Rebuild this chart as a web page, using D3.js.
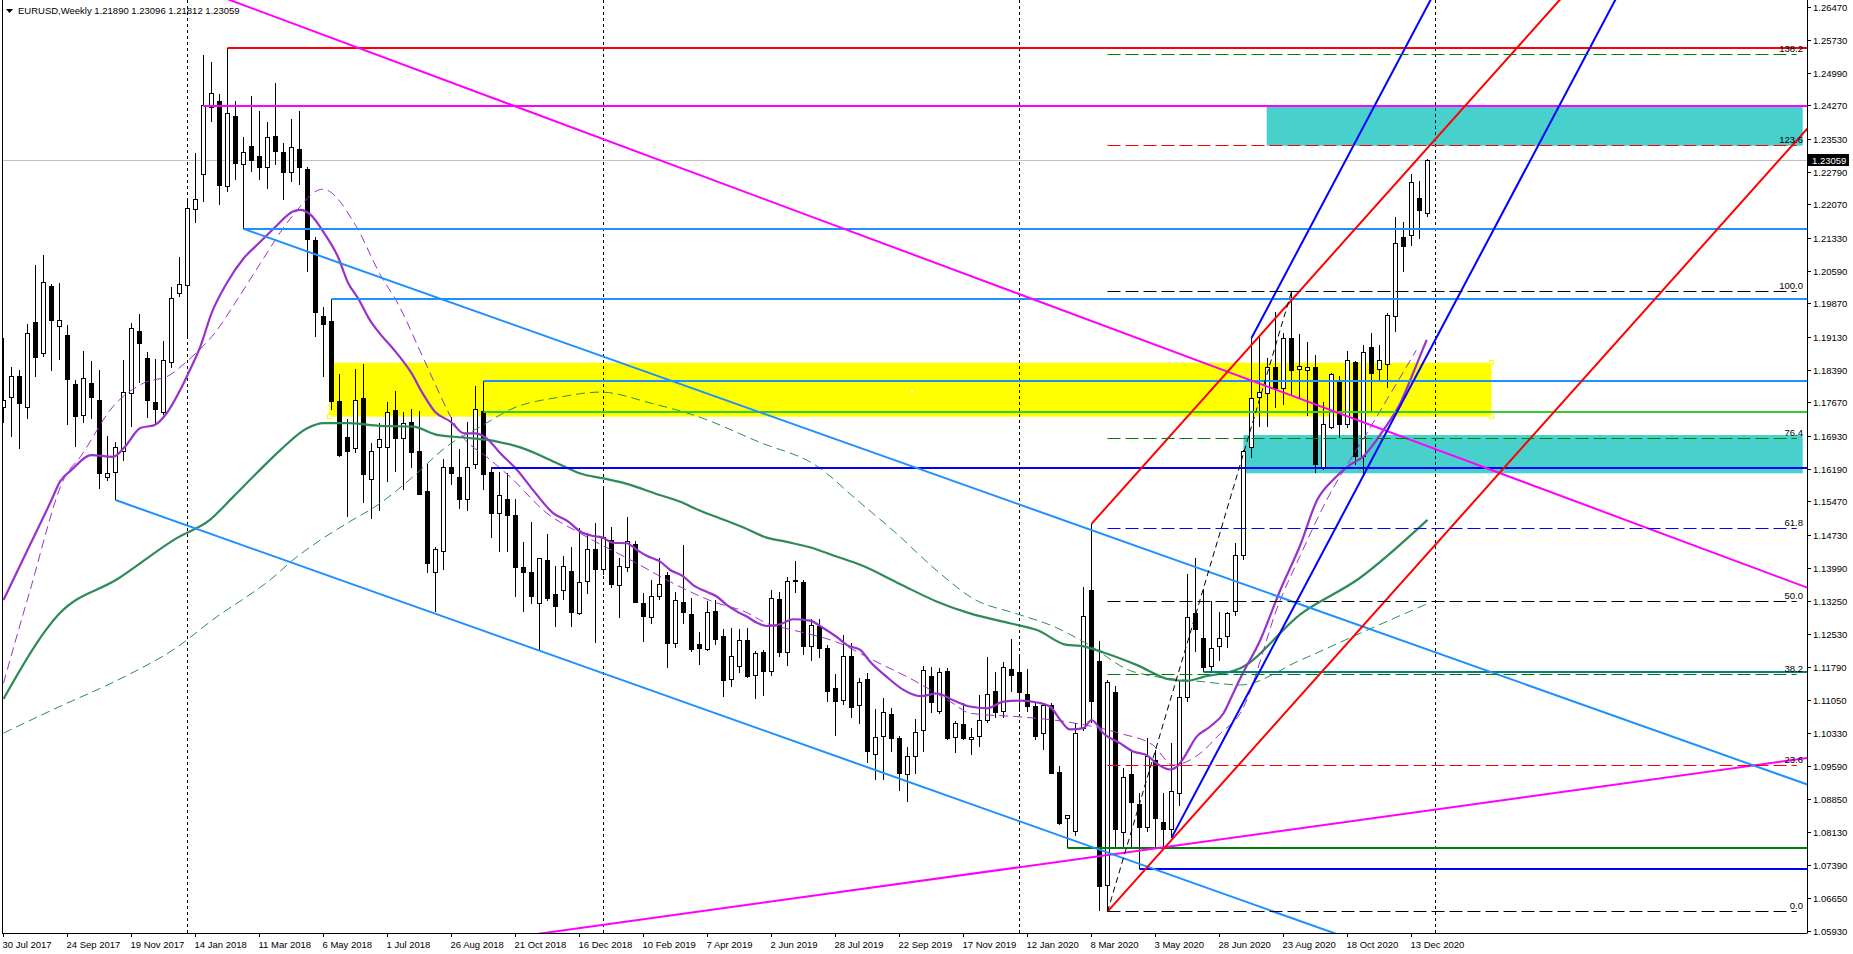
<!DOCTYPE html>
<html><head><meta charset="utf-8">
<script src="https://cdn.jsdelivr.net/npm/d3@7"></script>
<style>
body{margin:0;background:#fff;overflow:hidden}
svg{display:block}
text{font-family:"Liberation Sans",Arial,sans-serif;font-size:9.5px;fill:#000}
</style></head>
<body><svg id="c" width="1853" height="954"></svg>
<script>
// ---------------- DATA ----------------
const symbolTitle = "EURUSD,Weekly";
const lastQuote = [1.21890, 1.23096, 1.21812, 1.23059]; // O H L C of last bar
const firstBarDate = "2017-07-30";

const opens = [1.1756,1.1778,1.1825,1.1756,1.1945,1.1876,1.2025,1.1936,1.1916,1.1807,
1.1740,1.1811,1.1773,1.1602,1.1613,1.1658,1.1787,1.1925,1.1865,1.1767,
1.1745,1.1856,1.2011,1.2029,1.2196,1.2274,1.2423,1.2436,1.2247,1.2403,
1.2296,1.2336,1.2314,1.2291,1.2360,1.2323,1.2280,1.2331,1.2285,1.2129,
1.1960,1.1947,1.1769,1.1689,1.1665,1.1776,1.1596,1.1667,1.1667,1.1749,
1.1687,1.1724,1.1660,1.1569,1.1389,1.1436,1.1624,1.1600,1.1553,1.1629,
1.1747,1.1613,1.1522,1.1553,1.1516,1.1400,1.1389,1.1320,1.1416,1.1340,
1.1349,1.1393,1.1298,1.1369,1.1440,1.1396,1.1460,1.1360,1.1402,1.1453,
1.1322,1.1291,1.1336,1.1384,1.1233,1.1324,1.1296,1.1229,1.1218,1.1304,
1.1247,1.1151,1.1180,1.1238,1.1162,1.1211,1.1169,1.1329,1.1213,1.1371,
1.1367,1.1226,1.1269,1.1220,1.1131,1.1106,1.1204,1.1095,1.1151,1.0986,
1.1026,1.1075,1.1020,1.0942,1.0980,1.1038,1.1158,1.1082,1.1169,1.1024,
1.1053,1.1018,1.1026,1.1060,1.1126,1.1082,1.1175,1.1167,1.1118,1.1091,
1.1031,1.1095,1.0946,1.0844,1.0815,1.1044,1.1349,1.1191,1.0695,1.1124,
1.0813,1.0942,1.0875,1.0824,1.0971,1.0835,1.0818,1.0898,1.1113,1.1298,
1.1244,1.1182,1.1226,1.1247,1.1304,1.1427,1.1667,1.1778,1.1787,1.1845,
1.1798,1.1911,1.1842,1.1838,1.1845,1.1624,1.1713,1.1816,1.1718,1.1856,
1.1647,1.1891,1.1842,1.1853,1.1960,1.2134,1.2138,1.2222,1.21890];
const highs = [1.1911,1.1847,1.1840,1.1942,1.2074,1.2096,1.2031,1.2034,1.1940,1.1818,
1.1882,1.1860,1.1840,1.1693,1.1680,1.1862,1.1945,1.1965,1.1880,1.1865,
1.1905,1.2025,1.2091,1.2218,1.2323,1.2540,1.2525,1.2454,1.2556,1.2438,
1.2358,1.2449,1.2416,1.2391,1.2478,1.2345,1.2398,1.2416,1.2291,1.2136,
1.1980,1.1998,1.1831,1.1731,1.1842,1.1853,1.1678,1.1722,1.1769,1.1793,
1.1747,1.1753,1.1749,1.1631,1.1447,1.1642,1.1736,1.1665,1.1724,1.1805,
1.1816,1.1624,1.1613,1.1611,1.1553,1.1458,1.1502,1.1422,1.1476,1.1404,
1.1427,1.1447,1.1489,1.1478,1.1500,1.1578,1.1491,1.1422,1.1513,1.1460,
1.1344,1.1373,1.1422,1.1390,1.1347,1.1451,1.1333,1.1258,1.1327,1.1329,
1.1264,1.1267,1.1264,1.1267,1.1215,1.1218,1.1351,1.1347,1.1380,1.1416,
1.1373,1.1287,1.1287,1.1229,1.1164,1.1251,1.1233,1.1155,1.1167,1.1087,
1.1111,1.1089,1.1026,1.1002,1.1064,1.1182,1.1180,1.1178,1.1178,1.1060,
1.1100,1.1044,1.1118,1.1202,1.1169,1.1191,1.1242,1.1209,1.1175,1.1100,
1.1098,1.1100,1.0960,1.0851,1.1055,1.1358,1.1498,1.1238,1.1150,1.1138,
1.0955,1.0993,1.0900,1.1022,1.0995,1.0900,1.1011,1.1149,1.1387,1.1422,
1.1353,1.1327,1.1302,1.1302,1.1456,1.1662,1.1911,1.1918,1.1867,1.1969,
1.1922,1.2014,1.1920,1.1902,1.1873,1.1769,1.1833,1.1827,1.1882,1.1860,
1.1896,1.1922,1.1896,1.1967,1.2180,1.2169,1.2276,1.2260,1.23096];
const lows = [1.1722,1.1691,1.1665,1.1731,1.1825,1.1869,1.1838,1.1862,1.1718,1.1669,
1.1722,1.1731,1.1576,1.1593,1.1551,1.1638,1.1713,1.1811,1.1733,1.1718,
1.1740,1.1845,1.2002,1.1913,1.2167,1.2214,1.2391,1.2207,1.2236,1.2262,
1.2154,1.2280,1.2262,1.2242,1.2296,1.2218,1.2258,1.2251,1.2058,1.1913,
1.1825,1.1751,1.1647,1.1513,1.1656,1.1544,1.1509,1.1527,1.1591,1.1613,
1.1573,1.1622,1.1562,1.1389,1.1302,1.1396,1.1584,1.1531,1.1527,1.1620,
1.1573,1.1467,1.1436,1.1436,1.1336,1.1302,1.1320,1.1215,1.1327,1.1269,
1.1329,1.1269,1.1296,1.1342,1.1233,1.1384,1.1356,1.1289,1.1391,1.1322,
1.1235,1.1275,1.1329,1.1178,1.1222,1.1275,1.1213,1.1184,1.1215,1.1229,
1.1113,1.1135,1.1167,1.1155,1.1109,1.1115,1.1160,1.1202,1.1182,1.1344,
1.1207,1.1193,1.1200,1.1102,1.1026,1.1095,1.1066,1.1053,1.0966,1.0929,
1.0929,1.0991,1.0904,1.0880,1.0942,1.0991,1.1078,1.1075,1.1018,1.0989,
1.1018,1.0984,1.1002,1.1055,1.1066,1.1066,1.1124,1.1080,1.1080,1.1018,
1.0995,1.0943,1.0829,1.0778,1.0804,1.1038,1.1055,1.0638,1.0635,1.0778,
1.0778,1.0775,1.0731,1.0813,1.0778,1.0778,1.0800,1.0871,1.1102,1.1213,
1.1169,1.1169,1.1193,1.1222,1.1293,1.1418,1.1645,1.1713,1.1713,1.1756,
1.1762,1.1784,1.1776,1.1738,1.1611,1.1618,1.1709,1.1689,1.1711,1.1629,
1.1607,1.1747,1.1813,1.1800,1.1925,1.2058,1.2116,1.2131,1.21812];
const closes = [1.1773,1.1825,1.1765,1.1922,1.1867,1.2034,1.1949,1.1951,1.1820,1.1736,
1.1822,1.1780,1.1611,1.1611,1.1667,1.1789,1.1933,1.1900,1.1773,1.1753,
1.1862,1.2000,1.2031,1.2198,1.2220,1.2427,1.2454,1.2251,1.2411,1.2300,
1.2323,1.2305,1.2291,1.2356,1.2325,1.2280,1.2334,1.2291,1.2131,1.1967,
1.1942,1.1769,1.1651,1.1660,1.1773,1.1607,1.1660,1.1685,1.1745,1.1687,
1.1722,1.1656,1.1564,1.1411,1.1442,1.1624,1.1611,1.1553,1.1624,1.1753,
1.1607,1.1522,1.1560,1.1516,1.1402,1.1389,1.1336,1.1420,1.1333,1.1315,
1.1404,1.1300,1.1367,1.1442,1.1396,1.1467,1.1364,1.1404,1.1458,1.1324,
1.1293,1.1336,1.1364,1.1233,1.1327,1.1302,1.1218,1.1220,1.1300,1.1242,
1.1149,1.1204,1.1238,1.1158,1.1209,1.1169,1.1333,1.1211,1.1371,1.1373,
1.1226,1.1273,1.1220,1.1126,1.1104,1.1204,1.1089,1.1146,1.0993,1.1024,
1.1078,1.1022,1.0944,1.0980,1.1035,1.1171,1.1102,1.1167,1.1020,1.1055,
1.1020,1.1024,1.1060,1.1118,1.1078,1.1178,1.1160,1.1124,1.1091,1.1026,
1.1095,1.0944,1.0833,1.0849,1.1033,1.1293,1.1104,1.0693,1.1146,1.0818,
1.0935,1.0878,1.0824,1.0980,1.0842,1.0818,1.0904,1.1111,1.1289,1.1264,
1.1178,1.1222,1.1244,1.1298,1.1427,1.1658,1.1776,1.1789,1.1845,1.1800,
1.1909,1.1840,1.1847,1.1845,1.1631,1.1720,1.1831,1.1720,1.1862,1.1647,
1.1878,1.1833,1.1862,1.1962,1.2122,1.2114,1.2256,1.2194,1.23059];

const priceTicks = [1.26470,1.25730,1.24990,1.24270,1.23530,1.22790,1.22070,1.21330,1.20590,
1.19870,1.19130,1.18390,1.17670,1.16930,1.16190,1.15470,1.14730,1.13990,1.13250,1.12530,
1.11790,1.11050,1.10330,1.09590,1.08850,1.08130,1.07390,1.06650,1.05930];
const dateTicks = ["30 Jul 2017","24 Sep 2017","19 Nov 2017","14 Jan 2018","11 Mar 2018","6 May 2018",
"1 Jul 2018","26 Aug 2018","21 Oct 2018","16 Dec 2018","10 Feb 2019","7 Apr 2019","2 Jun 2019",
"28 Jul 2019","22 Sep 2019","17 Nov 2019","12 Jan 2020","8 Mar 2020","3 May 2020","28 Jun 2020",
"23 Aug 2020","18 Oct 2020","13 Dec 2020"];

// moving averages: [bar index, price]
const maFast = [[0,1.1329],[3,1.1440],[6.0,1.1551],[7.06,1.1592],[8.5,1.1618],[11.0,1.1651],[13.7,1.1647],[15.2,1.1670],
[17.1,1.1711],[18.9,1.1718],[20.4,1.1744],[22.1,1.1796],[23.3,1.1840],[24.6,1.1892],[26.0,1.1966],[27.9,1.2033],
[30.0,1.2088],[32.1,1.2125],[34.2,1.2162],[36.1,1.2192],[37.1,1.2196],[38.4,1.2185],[40.1,1.2144],[41.8,1.2092],
[43.1,1.2033],[44.3,1.2000],[45.8,1.1951],[47.0,1.1922],[49.0,1.1881],[51.0,1.1833],[52.4,1.1788],[53.9,1.1748],
[55.9,1.1725],[57.6,1.1699],[58.9,1.1699],[60.4,1.1688],[62.1,1.1655],[64.2,1.1618],[66.2,1.1573],[68.7,1.1522],
[70.6,1.1503],[72.1,1.1481],[73.7,1.1471],[74.8,1.1468],[76.2,1.1456],[77.9,1.1455],[79.2,1.1440],[80.4,1.1427],
[82.1,1.1414],[83.3,1.1396],[85.0,1.1381],[86.2,1.1362],[87.9,1.1347],[89.2,1.1336],[90.4,1.1318],[91.7,1.1303],
[92.9,1.1292],[94.2,1.1278],[95.4,1.1271],[97.1,1.1275],[98.7,1.1286],[100.8,1.1283],[102.5,1.1266],[104.2,1.1246],
[105.5,1.1228],[107.1,1.1218],[108.3,1.1192],[110.4,1.1158],[112.5,1.1129],[114.6,1.1115],[116.7,1.1121],[118.7,1.1106],
[120.8,1.1092],[122.9,1.1088],[125.0,1.1103],[127.1,1.1105],[129.2,1.1101],[130.8,1.1092],[132.1,1.1062],[133.3,1.1041],
[135.0,1.1044],[136.0,1.1062],[137.5,1.1032],[139.6,1.1010],[141.2,1.0992],[142.9,1.0984],[144.1,1.0966],[145.8,1.0952],
[146.6,1.0957],[147.5,1.0977],[149.1,1.1024],[150.8,1.1047],[152.5,1.1077],[153.7,1.1121],[154.6,1.1155],[157.1,1.1240],
[159.6,1.1351],[162.1,1.1451],[164.2,1.1551],[166.2,1.1596],[168.3,1.1629],[169.9,1.1647],[172.5,1.1707],[174.6,1.1766],
[176.2,1.1833],[177.9,1.1907]];
const maFastShifted = [[0,1.1144],[3.3,1.1349],[7.7,1.1603],[9.6,1.1647],[13.7,1.1759],[17.5,1.1811],[20.8,1.1829],[22.9,1.1859],
[26.7,1.1929],[29.2,1.1996],[32.1,1.2077],[36.0,1.2180],[39.9,1.2242],[44.1,1.2159],[47.0,1.2055],[49.5,1.1981],
[52.0,1.1885],[53.9,1.1811],[55.9,1.1736],[57.4,1.1692],[60.4,1.1647],[63.3,1.1603],[67.9,1.1522],[72.1,1.1477],
[79.2,1.1410],[83.7,1.1366],[88.7,1.1325],[92.9,1.1301],[95.4,1.1277],[98.7,1.1262],[104.6,1.1232],[108.7,1.1195],
[113.7,1.1151],[118.7,1.1099],[120.8,1.1077],[127.1,1.1069],[132.9,1.1058],[139.6,1.1032],[143.7,1.1006],[146.2,1.0962],
[149.6,1.0988],[152.1,1.1032],[154.6,1.1077],[159.6,1.1329],[162.1,1.1428],[165.4,1.1551],[170.4,1.1699],[176.6,1.1884]];
const maSlow = [[0,1.1109],[6.9,1.1297],[14.3,1.1376],[21.7,1.1467],[25.8,1.1507],[28.7,1.1558],[31.6,1.1610],
[34.6,1.1662],[37.9,1.1710],[40.0,1.1722],[42.9,1.1722],[47.1,1.1716],[51.2,1.1714],[54.2,1.1696],[57.5,1.1690],
[61.7,1.1681],[64.6,1.1668],[69.2,1.1633],[72.1,1.1610],[75.0,1.1599],[77.9,1.1587],[81.7,1.1564],[84.6,1.1547],
[87.1,1.1527],[89.6,1.1510],[92.5,1.1490],[95.3,1.1468],[97.9,1.1458],[100.8,1.1446],[104.2,1.1425],[107.1,1.1407],
[112.1,1.1364],[116.7,1.1325],[120.8,1.1299],[125.8,1.1277],[129.2,1.1262],[132.9,1.1229],[134.6,1.1227],[137.5,1.1212],
[141.7,1.1184],[145.8,1.1152],[147.9,1.1149],[150.0,1.1158],[154.6,1.1177],[162.1,1.1297],[169.4,1.1376],[178,1.1507]];
const maSlowLong = [[0,1.1033],[6.9,1.1091],[14.3,1.1151],[21.7,1.1224],[26.7,1.1292],[30.4,1.1336],[33.3,1.1373],
[36.2,1.1418],[39.6,1.1462],[42.9,1.1499],[47.1,1.1544],[51.2,1.1603],[55.4,1.1670],[59.6,1.1714],[63.7,1.1755],
[69.6,1.1780],[74.6,1.1791],[81.0,1.1766],[86.9,1.1736],[94.3,1.1681],[101.8,1.1625],[106.7,1.1551],[111.6,1.1477],
[116.6,1.1395],[121.5,1.1329],[126.5,1.1299],[131.4,1.1269],[135.4,1.1232],[141.3,1.1169],[150.0,1.1147],[154.6,1.1140],
[162.1,1.1195],[169.6,1.1255],[178.3,1.1323]];

// horizontal lines: start bar, price
const hLineStart = [28, 25, 30, 41, 60, 60, 61, 133, 142, 150];
const hLinePrice = [1.2556, 1.2427, 1.2154, 1.1998, 1.1816, 1.1746, 1.1623, 1.0778, 1.0730, 1.1169];
// trend lines: [bar1, price1, bar2, price2]
const trendLines = [
  [40, 1.2585, 200, 1.1525],   // magenta falling
  [110, 1.0693, 220, 1.0964],  // magenta rising
  [30, 1.2154, 150, 1.13956],  // channel upper
  [14, 1.1551, 150, 1.06915],  // channel lower
  [136, 1.1498, 150, 1.17766], // red upper
  [138, 1.0636, 152, 1.09146], // red lower
  [156, 1.1911, 166, 1.22468], // blue upper
  [146, 1.0800, 156, 1.11358]  // blue lower
];
// rectangles: [bar1, bar2, priceTop, priceBottom]
const rects = [[40.7, 186, 1.18563, 1.17363], [157.9, 224.9, 1.24254, 1.23387], [155, 224.9, 1.16956, 1.16105]];
const rectMidHandle = [113.5, 1.17945];
// fibonacci retracement
const fibFrom = [138, 1.0636];
const fibTo = [161, 1.2014];
const fibLevels = [0, 23.6, 38.2, 50, 61.8, 76.4, 100, 123.6, 138.2];
const fibEndBar = 224.15;

// ---------------- STYLE ----------------
const hLineColor = ["#FF0000","#FF00FF","#1E90FF","#1E90FF","#1E90FF","#32CD32","#0000FF","#008000","#0000FF","#008080"];
const trendColor = ["#FF00FF","#FF00FF","#1E90FF","#1E90FF","#FF0000","#FF0000","#0000FF","#0000FF"];
const trendBoth = [true, true, false, false, false, false, false, false];
const rectColor = ["#FFFF00","#48D1CC","#48D1CC"];
const fibColor = ["#000000","#FF0000","#008000","#000000","#0000FF","#008000","#000000","#FF0000","#008000"];

// ---------------- DRAW ----------------
const PL = 2, PR = 1807, PT = 0, PB = 933;
const svg = d3.select("#c");
const x = d3.scaleLinear().domain([0, 178]).range([3.5, 1427.5]);
const y = d3.scaleLinear().domain([1.26470, 1.05930]).range([7, 931]);
const start = d3.timeParse("%Y-%m-%d")(firstBarDate);
const barDate = i => d3.timeWeek.offset(start, i);
const fmt = d3.timeFormat("%-d %b %Y");
const crisp = v => Math.round(v - 0.5) + 0.5;

svg.append("rect").attr("width",1853).attr("height",954).attr("fill","#fff");
svg.append("defs").append("clipPath").attr("id","pc").append("rect")
  .attr("x",PL).attr("y",PT).attr("width",PR-PL).attr("height",PB-PT);
const g = svg.append("g").attr("clip-path","url(#pc)");

rects.forEach((r,k)=>{
  g.append("rect").attr("x",x(r[0])).attr("y",y(r[2]))
   .attr("width",x(r[1])-x(r[0])).attr("height",y(r[3])-y(r[2])).attr("fill",rectColor[k]);
});

for (let i = 1; i < 186; i++) {
  if (barDate(i).getFullYear() !== barDate(i-1).getFullYear()) {
    g.append("line").attr("x1",x(i)).attr("x2",x(i)).attr("y1",PT).attr("y2",PB)
     .attr("stroke","#000").attr("stroke-width",1).attr("stroke-dasharray","3,3");
  }
}

g.append("line").attr("x1",PL).attr("x2",PR).attr("y1",crisp(y(lastQuote[3]))).attr("y2",crisp(y(lastQuote[3])))
 .attr("stroke","#C0C0C0").attr("stroke-width",1);

const cg = g.append("g");
opens.forEach((o,i)=>{
  const h = highs[i], l = lows[i], c = closes[i], xc = crisp(x(i));
  cg.append("line").attr("x1",xc).attr("x2",xc).attr("y1",Math.round(y(h))).attr("y2",Math.round(y(l)))
    .attr("stroke","#000").attr("stroke-width",1);
  const top = crisp(y(Math.max(o,c))), bot = crisp(y(Math.min(o,c)));
  cg.append("rect").attr("x",xc-2).attr("y",top).attr("width",4).attr("height",Math.max(bot-top,0.01))
    .attr("fill", c >= o ? "#fff" : "#000").attr("stroke","#000").attr("stroke-width",1);
});

const maLine = d3.line().x(d=>x(d[0])).y(d=>y(d[1])).curve(d3.curveMonotoneX);
g.append("path").attr("d",maLine(maSlowLong)).attr("fill","none").attr("stroke","#2E8B57").attr("stroke-width",1).attr("stroke-dasharray","9,5");
g.append("path").attr("d",maLine(maSlow)).attr("fill","none").attr("stroke","#2E8B57").attr("stroke-width",2.2);
g.append("path").attr("d",maLine(maFastShifted)).attr("fill","none").attr("stroke","#9932CC").attr("stroke-width",1).attr("stroke-dasharray","9,5");
g.append("path").attr("d",maLine(maFast)).attr("fill","none").attr("stroke","#9932CC").attr("stroke-width",2.2);

hLineStart.forEach((s,k)=>{
  const yy = Math.round(y(hLinePrice[k]));
  g.append("line").attr("x1",x(s)).attr("x2",PR).attr("y1",yy).attr("y2",yy)
   .attr("stroke",hLineColor[k]).attr("stroke-width",2);
});

trendLines.forEach((t,k)=>{
  const x1 = x(t[0]), y1 = y(t[1]), x2 = x(t[2]), y2 = y(t[3]);
  const m = (y2-y1)/(x2-x1);
  const xs = trendBoth[k] ? PL - 50 : x1;
  const xe = PR + 50;
  g.append("line").attr("x1",xs).attr("y1",y1 + m*(xs-x1)).attr("x2",xe).attr("y2",y1 + m*(xe-x1))
   .attr("stroke",trendColor[k]).attr("stroke-width",2);
});

const fibRange = fibTo[1] - fibFrom[1];
g.append("line").attr("x1",x(fibFrom[0])).attr("y1",y(fibFrom[1])).attr("x2",x(fibTo[0])).attr("y2",y(fibTo[1]))
 .attr("stroke","#000").attr("stroke-width",1).attr("stroke-dasharray","6,4");
fibLevels.forEach((lv,k)=>{
  const p = fibFrom[1] + fibRange*lv/100, yy = crisp(y(p));
  g.append("line").attr("x1",x(fibFrom[0])).attr("x2",x(fibEndBar)).attr("y1",yy).attr("y2",yy)
   .attr("stroke",fibColor[k]).attr("stroke-width",1).attr("stroke-dasharray","13,5");
  svg.append("text").attr("x",1803).attr("y",yy-3).attr("text-anchor","end").text(lv.toFixed(1));
});

[[rects[0][0],rects[0][3]],[rects[0][1],rects[0][2]],[rects[0][1],rects[0][3]]].forEach(pt=>{
  svg.append("rect").attr("x",crisp(x(pt[0]))-2).attr("y",crisp(y(pt[1]))-2).attr("width",4).attr("height",4)
   .attr("fill","#fff").attr("stroke","#FFFF00").attr("stroke-width",1);
});
svg.append("rect").attr("x",Math.round(x(rectMidHandle[0]))-1).attr("y",Math.round(y(rectMidHandle[1]))-1)
  .attr("width",2).attr("height",2).attr("fill","#fff");

svg.append("line").attr("x1",crisp(PL)).attr("x2",crisp(PL)).attr("y1",0).attr("y2",PB).attr("stroke","#000");
svg.append("line").attr("x1",crisp(PR)).attr("x2",crisp(PR)).attr("y1",0).attr("y2",PB+0.5).attr("stroke","#000");
svg.append("line").attr("x1",PL).attr("x2",PR).attr("y1",crisp(PB)).attr("y2",crisp(PB)).attr("stroke","#000");

priceTicks.forEach(p=>{
  const yy = crisp(y(p));
  svg.append("line").attr("x1",PR).attr("x2",PR+4).attr("y1",yy).attr("y2",yy).attr("stroke","#000");
  svg.append("text").attr("x",1813).attr("y",yy+3.5).text(p.toFixed(5));
});
const ly = y(lastQuote[3]);
svg.append("rect").attr("x",1808).attr("y",Math.round(ly)-6).attr("width",41).attr("height",12).attr("fill","#000");
svg.append("text").attr("x",1812).attr("y",Math.round(ly)+3.5).style("fill","#fff").text(lastQuote[3].toFixed(5));

dateTicks.forEach(lbl=>{
  let idx = -1;
  for (let i = 0; i < 200; i++) if (fmt(barDate(i)) === lbl) { idx = i; break; }
  const xx = crisp(x(idx));
  svg.append("line").attr("x1",xx).attr("x2",xx).attr("y1",PB).attr("y2",PB+4).attr("stroke","#000");
  svg.append("text").attr("x",xx-1).attr("y",PB+15).text(lbl);
});

svg.append("path").attr("d","M6,9L13,9L9.5,13Z").attr("fill","#000");
svg.append("text").attr("x",18).attr("y",14).text(symbolTitle + "  " + lastQuote.map(v=>v.toFixed(5)).join(" "));
</script></body></html>
